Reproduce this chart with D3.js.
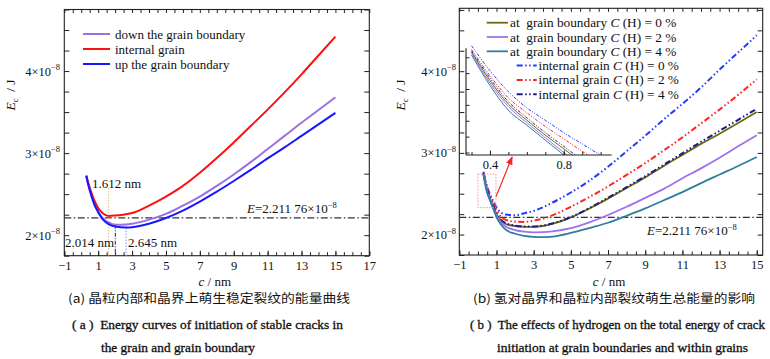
<!DOCTYPE html>
<html><head><meta charset="utf-8">
<script src="https://cdn.jsdelivr.net/npm/d3@7"></script>
<style>
body{margin:0;background:#fff;}
svg{display:block;font-family:"Liberation Serif","Times New Roman",serif;}
</style></head><body>
<svg id="chart" width="770" height="359" font-family="Liberation Serif, Times New Roman, serif"></svg>
<script>
// ---------------- data ----------------
const xTicksLeft = [-1,1,3,5,7,9,11,13,15,17];
const xTicksRight = [-1,1,3,5,7,9,11,13,15];
const yTicks = [2,3,4];              // ×10^-8 J
const refE = 2.21176;                // E = 2.211 76×10^-8
const minima = [1.612, 2.014, 2.645];

const cLeft = [0.3,0.4,0.5,0.6,0.7,0.8,0.9,1.0,1.25,1.612,2.014,2.645,3,4,5,6,7,8,9,10,11,12,13,14,15];
const leftDown     = [2.72,2.63,2.55,2.48,2.42,2.37,2.33,2.29,2.21,2.155,2.126,2.13,2.14,2.19,2.26,2.36,2.47,2.60,2.74,2.89,3.05,3.21,3.37,3.525,3.68];
const leftInternal = [2.73,2.65,2.58,2.52,2.46,2.41,2.37,2.33,2.27,2.235,2.24,2.255,2.27,2.36,2.47,2.60,2.76,2.94,3.13,3.33,3.53,3.74,3.96,4.19,4.42];
const leftUp       = [2.72,2.63,2.55,2.48,2.42,2.36,2.32,2.28,2.20,2.135,2.105,2.093,2.097,2.14,2.21,2.30,2.41,2.53,2.66,2.795,2.935,3.07,3.21,3.35,3.49];
const leftNames = ["down the grain boundary","internal grain","up the grain boundary"];

const cRight = [0.3,0.4,0.5,0.6,0.7,0.8,0.9,1.0,1.25,1.5,2,2.5,3,3.5,4,5,6,7,8,9,10,11,12,13,14,15];
const gb0 = [2.745,2.63,2.535,2.47,2.41,2.355,2.30,2.25,2.17,2.13,2.105,2.095,2.095,2.105,2.13,2.21,2.32,2.44,2.57,2.70,2.84,2.975,3.11,3.235,3.365,3.50];
const gb2 = [2.74,2.62,2.525,2.46,2.40,2.34,2.285,2.235,2.15,2.10,2.055,2.035,2.028,2.03,2.04,2.08,2.15,2.24,2.34,2.45,2.56,2.69,2.81,2.94,3.08,3.216];
const gb4 = [2.733,2.61,2.51,2.45,2.39,2.33,2.27,2.215,2.12,2.06,2.01,1.985,1.972,1.968,1.975,2.02,2.08,2.145,2.23,2.32,2.42,2.52,2.63,2.735,2.84,2.95];
const in0 = [2.77,2.67,2.585,2.52,2.47,2.42,2.375,2.33,2.27,2.245,2.237,2.262,2.29,2.335,2.39,2.515,2.66,2.83,3.02,3.21,3.41,3.60,3.80,4.02,4.23,4.44];
const in2 = [2.755,2.65,2.56,2.50,2.445,2.395,2.345,2.30,2.22,2.18,2.158,2.155,2.17,2.195,2.235,2.34,2.46,2.59,2.73,2.875,3.03,3.19,3.36,3.53,3.71,3.90];
const in4 = [2.75,2.64,2.545,2.48,2.42,2.365,2.31,2.26,2.18,2.14,2.11,2.10,2.10,2.11,2.135,2.215,2.325,2.45,2.58,2.715,2.855,2.995,3.135,3.27,3.405,3.54];
const hydrogen = ["0","2","4"];
const insetTicks = [0.4, 0.8];
const zoomBoxC = [0, 0.97], zoomBoxE = [2.33, 2.74];

// ---------------- drawing ----------------
const SERIF = "Liberation Serif, Times New Roman, serif";
const svg = d3.select("#chart");
const INK = "#222";

const defs = svg.append("defs");
defs.append("marker").attr("id","arr").attr("viewBox","0 0 10 10").attr("refX",9).attr("refY",5)
  .attr("markerWidth",7).attr("markerHeight",7).attr("orient","auto-start-reverse")
  .append("path").attr("d","M0,1 L10,5 L0,9 z").attr("fill","#ff2020");

function fmt(d){ return d < 0 ? "\u2212" + Math.abs(d) : String(d); }
function clean(sel, fs){
  sel.select(".domain").remove();
  sel.attr("font-family", SERIF);
  sel.selectAll("line").attr("stroke", INK).attr("stroke-width",1);
  sel.selectAll("text").attr("font-family",SERIF).attr("font-size",fs||12.5).attr("fill","#111");
}

function frame(g, x, y, xLab, labelRightX, yTitleX){
  const [x0,x1] = x.range(), [y0,y1] = y.range();
  const xd = x.domain(), yd = y.domain();
  const xMinor = d3.range(Math.ceil(xd[0]*2)/2, xd[1]+1e-6, 0.5);
  const yMinor = d3.range(Math.ceil(yd[0]*4)/4, yd[1]+1e-6, 0.25);
  g.append("g").attr("transform",`translate(0,${y0})`)
    .call(d3.axisBottom(x).tickValues(xMinor).tickSize(-3.5).tickFormat("")).call(clean);
  g.append("g").attr("transform",`translate(0,${y1})`)
    .call(d3.axisTop(x).tickValues(xMinor).tickSize(-3.5).tickFormat("")).call(clean);
  g.append("g").attr("transform",`translate(0,${y0})`)
    .call(d3.axisBottom(x).tickValues(xLab).tickSize(-5).tickPadding(5).tickFormat(fmt)).call(clean);
  g.append("g").attr("transform",`translate(${x0},0)`)
    .call(d3.axisLeft(y).tickValues(yMinor).tickSize(-5).tickFormat("")).call(clean);
  g.append("g").attr("transform",`translate(${x1},0)`)
    .call(d3.axisRight(y).tickValues(yMinor).tickSize(-5).tickFormat("")).call(clean);
  g.append("rect").attr("x",x0).attr("y",y1).attr("width",x1-x0).attr("height",y0-y1)
    .attr("fill","none").attr("stroke",INK).attr("stroke-width",1.1);
  // y tick labels  n×10^-8
  yTicks.forEach(v=>{
    const t = g.append("text").attr("x",labelRightX).attr("y",y(v)+4.5).attr("text-anchor","end")
      .attr("font-family",SERIF).attr("font-size",12.5).attr("fill","#111");
    t.append("tspan").text(v+"\u00d710");
    t.append("tspan").attr("font-size",8.5).attr("dy",-5.5).text("\u22128");
  });
  // y title
  const yt = g.append("text").attr("transform",`translate(${yTitleX},95) rotate(-90)`)
    .attr("text-anchor","middle").attr("font-family",SERIF).attr("font-size",13.5).attr("fill","#111")
    .style("white-space","pre");
  yt.append("tspan").attr("font-style","italic").text("E");
  yt.append("tspan").attr("font-size",8.5).attr("dy",3).text("c");
  yt.append("tspan").attr("dy",-3).text("  / J");
  // x title
  const xt = g.append("text").attr("x",(x0+x1)/2 - 2).attr("y",285.5).attr("text-anchor","middle")
    .attr("font-family",SERIF).attr("font-size",13).attr("fill","#111");
  xt.append("tspan").attr("font-style","italic").text("c");
  xt.append("tspan").text(" / nm");
  // reference line
  g.append("line").attr("x1",x0).attr("x2",x1).attr("y1",y(refE)).attr("y2",y(refE))
    .attr("stroke","#333").attr("stroke-width",1.2).attr("stroke-dasharray","7,2.5,1.5,2.5");
}

function eLabel(g, x, yb){
  const t = g.append("text").attr("x",x).attr("y",yb).attr("font-family",SERIF).attr("font-size",13).attr("fill","#111");
  t.append("tspan").attr("font-style","italic").text("E");
  t.append("tspan").text("=2.211 76\u00d710");
  t.append("tspan").attr("font-size",8.5).attr("dy",-5.5).text("\u22128");
}

// ======== left panel ========
const xL = d3.scaleLinear([-1,17],[64.3,369.3]);
const yL = d3.scaleLinear([1.75,4.75],[255.7,9.5]);
const gL = svg.append("g").attr("font-family",SERIF);
frame(gL, xL, yL, xTicksLeft, 60, 15);

// minima markers
const minE = [leftInternal[cLeft.indexOf(1.612)], leftDown[cLeft.indexOf(2.014)], leftUp[cLeft.indexOf(2.645)]];
const minStyle = [
  {col:"#e6c79c", dash:"1.5,1.5", top:188},
  {col:"#4a3aa6", dash:"4,1.5,1,1.5", top:null},
  {col:"#95a6ff", dash:"1.5,1.5", top:null}];
minima.forEach((c,i)=>{
  gL.append("line").attr("x1",xL(c)).attr("x2",xL(c))
    .attr("y1", minStyle[i].top ?? yL(minE[i])).attr("y2",yL.range()[0])
    .attr("stroke",minStyle[i].col).attr("stroke-width",1.2).attr("stroke-dasharray",minStyle[i].dash);
});
gL.append("text").attr("x",92).attr("y",188).attr("font-size",13).attr("fill","#111").text(minima[0]+" nm");
gL.append("text").attr("x",65).attr("y",247).attr("font-size",13).attr("fill","#111").text(minima[1].toFixed(3)+" nm");
gL.append("text").attr("x",128).attr("y",247).attr("font-size",13).attr("fill","#111").text(minima[2]+" nm");

const lineL = d3.line().x(d=>xL(d[0])).y(d=>yL(d[1])).curve(d3.curveMonotoneX);
const leftSeries = [leftDown, leftInternal, leftUp];
const leftCols = ["#9b70e2","#ff1010","#1818ff"];
leftSeries.forEach((s,i)=>{
  gL.append("path").attr("d", lineL(cLeft.map((c,j)=>[c,s[j]])))
    .attr("fill","none").attr("stroke",leftCols[i]).attr("stroke-width",2);
});
eLabel(gL, 247, 213);

// legend
leftNames.forEach((n,i)=>{
  const yy = 34 + i*15;
  gL.append("line").attr("x1",83).attr("x2",110).attr("y1",yy).attr("y2",yy)
    .attr("stroke",leftCols[i]).attr("stroke-width",2);
  gL.append("text").attr("x",115).attr("y",yy+4.5).attr("font-size",13).attr("fill","#111").text(n);
});

// ======== right panel ========
const xR = d3.scaleLinear([-1,15.32],[459.3,762.7]);
const yR = d3.scaleLinear([1.75,4.77],[255,8.3]);
const gR = svg.append("g").attr("font-family",SERIF);
frame(gR, xR, yR, xTicksRight, 456, 405);

const DD = "6,2.5,1.5,2.5,1.5,2.5";
const rightSeries = [
  {v:gb0, col:"#6b6b12", dash:null, w:1.8, name:"at  grain boundary "},
  {v:gb2, col:"#a070f0", dash:null, w:1.8, name:"at  grain boundary "},
  {v:gb4, col:"#2f7f9c", dash:null, w:1.8, name:"at  grain boundary "},
  {v:in0, col:"#1f3cff", dash:DD, w:2, name:"internal grain "},
  {v:in2, col:"#ff2424", dash:DD, w:2, name:"internal grain "},
  {v:in4, col:"#1c1c8e", dash:DD, w:2, name:"internal grain "}];
const lineR = d3.line().x(d=>xR(d[0])).y(d=>yR(d[1])).curve(d3.curveMonotoneX);
const drawOrder = [3,4,0,5,1,2];
drawOrder.forEach(i=>{
  const s = rightSeries[i];
  gR.append("path").attr("d", lineR(cRight.map((c,j)=>[c,s.v[j]])))
    .attr("fill","none").attr("stroke",s.col).attr("stroke-width",s.w)
    .attr("stroke-dasharray",s.dash);
});
eLabel(gR, 647, 235);

// zoom box + arrow
gR.append("rect").attr("x",xR(zoomBoxC[0])).attr("y",yR(zoomBoxE[1]))
  .attr("width",xR(zoomBoxC[1])-xR(zoomBoxC[0])).attr("height",yR(zoomBoxE[0])-yR(zoomBoxE[1]))
  .attr("fill","none").attr("stroke","#f08a8a").attr("stroke-width",0.9).attr("stroke-dasharray","1.5,1.5");

// inset
const xI = d3.scaleLinear([0.27,1.06],[466,611.7]);
const yI = d3.scaleLinear([2.33,2.76],[155,48.3]);
gR.append("line").attr("x1",xR(zoomBoxC[1])).attr("y1",yR((zoomBoxE[0]+zoomBoxE[1])/2)+6)
  .attr("x2",xI(0.52)).attr("y2",yI.range()[0]+2)
  .attr("stroke","#ff2020").attr("stroke-width",1.2).attr("marker-end","url(#arr)");
defs.append("clipPath").attr("id","ic").append("rect")
  .attr("x",466).attr("y",44).attr("width",150).attr("height",111);
const gI = gR.append("g");
const lineI = d3.line().x(d=>xI(d[0])).y(d=>yI(d[1])).curve(d3.curveMonotoneX);
const gIc = gI.append("g").attr("clip-path","url(#ic)");
drawOrder.forEach(i=>{
  const s = rightSeries[i];
  gIc.append("path").attr("d", lineI(cRight.map((c,j)=>[c,s.v[j]])))
    .attr("fill","none").attr("stroke",s.col).attr("stroke-width",1)
    .attr("stroke-dasharray", s.dash ? "3,1.5,1,1.5,1,1.5" : null);
});
gI.append("g").attr("transform",`translate(0,${yI.range()[0]})`)
  .call(d3.axisBottom(xI).tickValues(d3.range(0.3,1.051,0.1)).tickSize(-3).tickFormat("")).call(clean);
gI.append("g").attr("transform",`translate(0,${yI.range()[0]})`)
  .call(d3.axisBottom(xI).tickValues(insetTicks).tickSize(-4.5).tickPadding(5).tickFormat(d3.format(".1f"))).call(clean);
gI.append("g").attr("transform",`translate(466,0)`)
  .call(d3.axisLeft(yI).tickValues(d3.range(2.34,2.76,0.064)).tickSize(-3.5).tickFormat("")).call(clean);
gI.append("line").attr("x1",466).attr("x2",611.7).attr("y1",155).attr("y2",155).attr("stroke",INK).attr("stroke-width",1.1);
gI.append("line").attr("x1",466).attr("x2",466).attr("y1",48.3).attr("y2",155).attr("stroke",INK).attr("stroke-width",1.1);

// right legend
rightSeries.forEach((s,i)=>{
  const yy = 22.7 + i*14.3;
  const isGB = !s.dash;
  const lx0 = isGB ? 486.7 : 516.7, lx1 = isGB ? 508 : 536.7, tx = isGB ? 510 : 538.5;
  gR.append("line").attr("x1",lx0).attr("x2",lx1).attr("y1",yy).attr("y2",yy)
    .attr("stroke",s.col).attr("stroke-width",s.w).attr("stroke-dasharray",s.dash);
  const t = gR.append("text").attr("x",tx).attr("y",yy+4.5).attr("font-size",13.3).attr("fill","#111")
    .style("white-space","pre");
  t.append("tspan").text(s.name);
  t.append("tspan").attr("font-style","italic").text("C");
  t.append("tspan").text(" (H) = " + hydrogen[i%3] + " %");
});

// ======== captions ========
const cap = svg.append("g").attr("fill","#111");
cap.append("text").attr("x",68).attr("y",303).attr("font-family","Noto Sans CJK SC, sans-serif")
  .attr("font-size",12).attr("textLength",282).attr("lengthAdjust","spacingAndGlyphs")
  .text("(a) 晶粒内部和晶界上萌生稳定裂纹的能量曲线");
cap.append("text").attr("x",473).attr("y",303).attr("font-family","Noto Sans CJK SC, sans-serif")
  .attr("font-size",12).attr("textLength",282).attr("lengthAdjust","spacingAndGlyphs")
  .text("(b) 氢对晶界和晶粒内部裂纹萌生总能量的影响");
const en = [
  {x:72, y:329, w:271, t:"( a )  Energy curves of initiation of stable cracks in"},
  {x:101, y:352, w:154, t:"the grain and grain boundary"},
  {x:470, y:329, w:295, t:"( b )  The effects of hydrogen on the total energy of crack"},
  {x:497, y:352, w:251, t:"initiation at grain boundaries and within grains"}];
en.forEach(d=>{
  cap.append("text").attr("x",d.x).attr("y",d.y).attr("font-family",SERIF).attr("font-size",12.5)
    .attr("stroke","#111").attr("stroke-width",0.3)
    .attr("textLength",d.w).attr("lengthAdjust","spacingAndGlyphs").style("white-space","pre").text(d.t);
});
</script>
</body></html>
